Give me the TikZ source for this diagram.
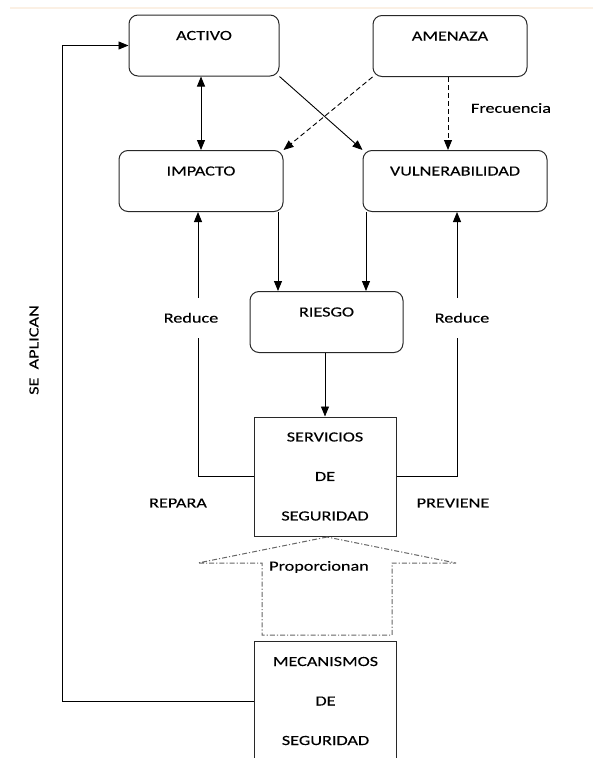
\documentclass[tikz,border=0pt]{standalone}
\usepackage{fontspec}
\setmainfont[FakeStretch=1.3, FakeBold=0.2]{Carlito}
\usepackage{tikz}
\usetikzlibrary{arrows.meta}

\definecolor{crema}{RGB}{251,240,228}
\definecolor{trazo}{RGB}{40,40,40}

\tikzset{
  caja/.style={draw=trazo, line width=1pt, rounded corners=9pt, minimum height=61pt,
    text height=19pt, text depth=30pt, inner ysep=6pt, inner xsep=0pt},
  bloque/.style={draw=trazo, line width=1pt, minimum width=142pt, minimum height=119pt,
    align=center, font=\fontsize{14}{39.5}\selectfont},
  flecha/.style={line width=0.9pt, -{Triangle[length=10pt,width=8pt]}},
  dflecha/.style={line width=0.9pt, {Triangle[length=10pt,width=8pt]}-{Triangle[length=10pt,width=8pt]}},
  rayado/.style={dash pattern=on 5pt off 3pt},
  rotulo/.style={fill=white, inner xsep=1pt, minimum height=40pt},
}

\begin{document}
\begin{tikzpicture}[x=1pt, y=-1pt, font=\fontsize{14}{17}\selectfont]

   \useasboundingbox (0,0) rectangle (593,758);
   \clip (0,0) rectangle (593,758);

   \draw[crema, line width=2pt] (10,8) -- (593,8);

   % cajas
   \node[caja, minimum width=150pt] (activo) at (204,45.5) {ACTIVO};
   \node[caja, minimum width=154pt] (amenaza) at (450,46) {AMENAZA};
   \node[caja, minimum width=164pt] (impacto) at (201,181) {IMPACTO};
   \node[caja, minimum width=184pt] (vulner) at (455,181) {VULNERABILIDAD};
   \node[caja, minimum width=153pt] (riesgo) at (326.5,322) {RIESGO};
   \node[bloque] (servicios) at (325,476.5) {SERVICIOS\\DE\\SEGURIDAD};
   \node[bloque] (mecanismos) at (325.5,701) {MECANISMOS\\DE\\SEGURIDAD};

   % flechas de arriba
   \draw[dflecha] (impacto.north |- activo.south) -- (impacto.north);
   \draw[flecha] (activo.south east) -- (vulner.north west);
   \draw[flecha, rayado] (amenaza.south west) -- (impacto.north east);
   \draw[flecha, rayado] (448,0 |- amenaza.south) -- (448,0 |- vulner.north);
   \node (frecuencia) at (511,108) {Frecuencia};

   \draw[flecha] (278,0 |- impacto.south) -- (278,0 |- riesgo.north);
   \draw[flecha] (366,0 |- vulner.south) -- (366,0 |- riesgo.north);
   \draw[flecha] (servicios.north |- riesgo.south) -- (servicios.north);

   % reduce
   \draw[flecha] (servicios.west) -| node[pos=0.8, rotulo, xshift=-7pt] (reduce1) {Reduce} (198,0 |- impacto.south);
   \draw[flecha] (servicios.east) -| node[pos=0.8, rotulo, xshift=5pt] (reduce2) {Reduce} (457,0 |- vulner.south);
   \node (repara) at (178,503) {REPARA};
   \node (previene) at (453,503) {PREVIENE};

   % flecha gruesa
   \draw[gray!80!black, line width=1pt, dash pattern=on 5pt off 2pt on 1.2pt off 2pt]
      (327,537) -- (198,563) -- (262,563) -- (262,635) -- (392,635) -- (392,563) -- (456,563) -- cycle;
   \node (proporcionan) at (319,567) {Proporcionan};

   % lazo izquierdo
   \coordinate (giro) at (62,0 |- mecanismos.west);
   \draw[flecha] (mecanismos.west) -- (giro) |- (activo.west);
   \node[rotate=90] (aplican) at (34,350) {SE~~APLICAN};

\end{tikzpicture}
\end{document}
